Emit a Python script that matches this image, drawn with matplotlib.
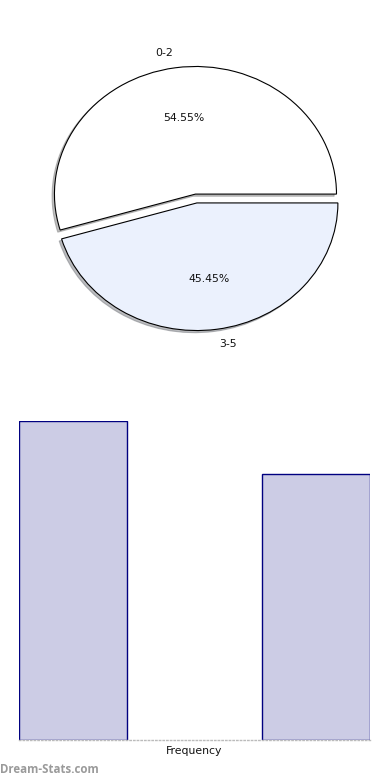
import numpy as np
import matplotlib
matplotlib.use("Agg")
import matplotlib.pyplot as plt

# datos
categorias = ["0-2", "3-5"]
frecuencias = [6, 5]
colores_pie = ["#FFFFFF", "#EBF1FD"]

fig = plt.figure(figsize=(3.9, 7.8), dpi=100)

# ---- pie ----
ax1 = fig.add_axes([0.051, 0.541, 0.904, 0.409])
ax1.pie(frecuencias, labels=categorias, colors=colores_pie,
        autopct="%.2f%%", explode=[0.035, 0.035], startangle=0,
        counterclock=True, labeldistance=1.12, pctdistance=0.6,
        shadow={"ox": -0.012, "oy": -0.012, "shade": 0.5},
        wedgeprops={"edgecolor": "black", "linewidth": 0.8},
        textprops={"fontsize": 7.8, "color": "#111111"})
ax1.set_aspect("auto")
ax1.set_xlim(-1.25, 1.25)
ax1.set_ylim(-1.25, 1.25)

# ---- barras ----
ancho = 0.445
ax2 = fig.add_axes([0.0487, 0.0513, 0.9, 0.409])
x = np.arange(len(frecuencias))
ax2.bar(x, frecuencias, width=ancho, color="#CCCCE5",
        edgecolor="#000080", linewidth=1.0)
ax2.set_xlim(-ancho / 2, len(frecuencias) - 1 + ancho / 2)
ax2.set_ylim(0, max(frecuencias))
for s in ["top", "right", "left"]:
    ax2.spines[s].set_visible(False)
ax2.spines["bottom"].set_color("#BBBBBB")
ax2.spines["bottom"].set_linestyle(":")
ax2.spines["bottom"].set_linewidth(1.0)
ax2.set_xticks([])
ax2.set_yticks([])
ax2.set_xlabel("Frequency", fontsize=7.8, color="#111111", labelpad=4)

fig.text(0.0, 0.0085, "Dream-Stats.com", fontsize=8.3, color="#9A9A9A",
         fontweight="bold", family=["Open Sans", "DejaVu Sans"],
         ha="left", va="baseline")

fig.savefig("out.png", dpi=100)
